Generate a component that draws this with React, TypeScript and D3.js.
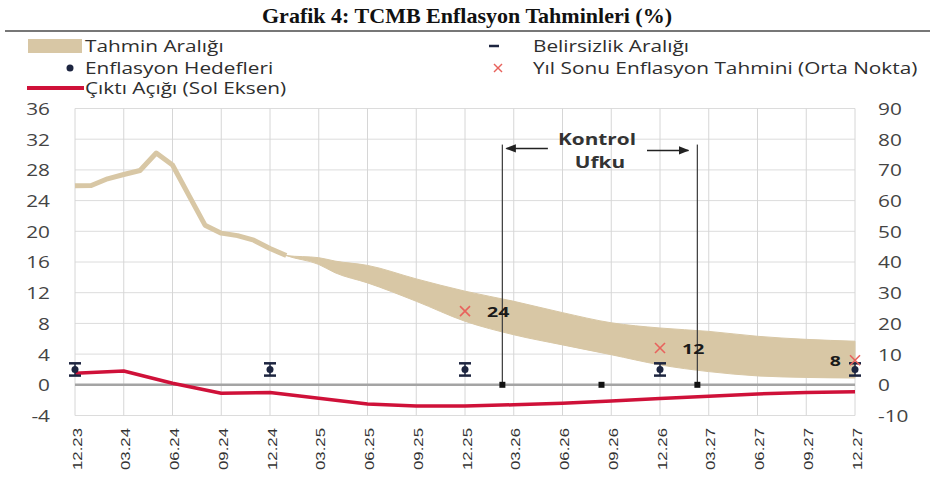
import React from 'react';
import * as d3 from 'd3';

// x ekseni: 12.23 - 12.27, üç ayda bir etiket
const quarterLabels = [
  '12.23', '03.24', '06.24', '09.24', '12.24', '03.25', '06.25', '09.25', '12.25',
  '03.26', '06.26', '09.26', '12.26', '03.27', '06.27', '09.27', '12.27',
];
const leftTicks = [-4, 0, 4, 8, 12, 16, 20, 24, 28, 32, 36];
const rightTicks = [-10, 0, 10, 20, 30, 40, 50, 60, 70, 80, 90];

// gerçekleşen enflasyon (aylık, 12.23'ten itibaren, sağ eksen)
const cpiHistory = [64.8, 64.9, 67.1, 68.5, 69.8, 75.5, 71.6, 61.8, 52.0, 49.4, 48.6, 47.1, 44.4, 42.1];

// tahmin aralığı (ay indeksi, sağ eksen)
const bandMonths = [12, 13, 15, 16, 18, 21, 24, 27, 30, 33, 36, 39, 42, 45, 48];
const bandUpper = [44.4, 42.1, 41.4, 40.3, 38.9, 34.5, 30.5, 27.2, 23.5, 20.2, 18.5, 17.4, 15.8, 14.8, 14.2];
const bandLower = [44.4, 42.1, 39.2, 36.5, 33.2, 27.2, 20.7, 16.3, 13.0, 9.8, 6.5, 4.3, 2.9, 2.4, 2.2];

// çıktı açığı (çeyreklik, sol eksen)
const outputGap = [1.5, 1.8, 0.2, -1.1, -1.0, -1.75, -2.5, -2.75, -2.75, -2.6, -2.4, -2.1, -1.8, -1.5, -1.2, -1.0, -0.9];

// enflasyon hedefleri ve belirsizlik aralığı (sağ eksen)
const targetMonths = [0, 12, 24, 36, 48];
const targetValues = [5, 5, 5, 5, 5];
const targetBand = [2, 2, 2, 2, 2];

// yıl sonu tahminleri (orta nokta)
const forecastMonths = [24, 36, 48];
const forecastValues = [24, 12, 8];

// kontrol ufku
const horizonMonths = [26.3, 38.3];
const horizonDots = [26.3, 32.4, 38.3];

const W = 935;
const H = 488;
const SX = 1.3; // kaynak görsel yatayda gerilmiş

const FONT = '"Open Sans", "DejaVu Sans", sans-serif';
const TAN = '#d8c7a5';
const RED = '#cf1139';
const NAVY = '#1d2540';
const CROSS = '#e8625c';

function SText({ x, y, anchor = 'start', size = 15, weight = 400, fill = '#2e2e2e', children }: any) {
  return (
    <text
      transform={`translate(${x},${y}) scale(${SX},1)`}
      textAnchor={anchor}
      dominantBaseline="central"
      fontFamily={FONT}
      fontSize={size}
      fontWeight={weight}
      fill={fill}
    >
      {children}
    </text>
  );
}

function Cross({ x, y, r = 5, w = 1.6 }: any) {
  return (
    <g stroke={CROSS} strokeWidth={w}>
      <line x1={x - r} y1={y - r} x2={x + r} y2={y + r} />
      <line x1={x - r} y1={y + r} x2={x + r} y2={y - r} />
    </g>
  );
}

export default function App() {
  const x = d3.scaleLinear().domain([0, 48]).range([75, 855]);
  const yL = d3.scaleLinear().domain([-4, 36]).range([415.5, 108.5]);
  const yR = d3.scaleLinear().domain([-10, 90]).range([415.5, 108.5]);

  const histLine = d3
    .line<number>()
    .x((d, i) => x(i))
    .y((d) => yR(d))(cpiHistory);

  const band = d3
    .area<number>()
    .curve(d3.curveMonotoneX)
    .x((d) => x(d))
    .y0((d, i) => yR(bandLower[i]))
    .y1((d, i) => yR(bandUpper[i]))(bandMonths);

  const gapLine = d3
    .line<number>()
    .x((d, i) => x(i * 3))
    .y((d) => yL(d))(outputGap);

  const [x0, x1] = x.range();
  const [yBot, yTop] = yL.range();
  const y0 = yL(0);
  const vTop = yL(31.3);
  const arrowY = yL(30.8);

  return (
    <svg width={W} height={H} style={{ position: 'absolute', left: 0, top: 0, background: '#fff' }}>
      <defs>
        <marker id="arr" viewBox="0 0 10 10" refX="9" refY="5" markerWidth="7" markerHeight="7" orient="auto-start-reverse">
          <path d="M0,1 L10,5 L0,9 z" fill="#222" />
        </marker>
      </defs>

      {/* başlık */}
      <text
        x={467}
        y={16}
        textAnchor="middle"
        dominantBaseline="central"
        fontFamily='"Liberation Serif", "Times New Roman", serif'
        fontWeight={700}
        fontSize={21}
        textLength={410}
        lengthAdjust="spacingAndGlyphs"
        fill="#111"
      >
        Grafik 4: TCMB Enflasyon Tahminleri (%)
      </text>
      <line x1={5} x2={930} y1={31} y2={31} stroke="#777" strokeWidth={2} />

      {/* lejant */}
      <rect x={28} y={39} width={54} height={14} fill={TAN} />
      <SText x={85} y={46} size={16}>Tahmin Aralığı</SText>
      <circle cx={70} cy={68} r={3.5} fill={NAVY} />
      <SText x={85} y={68} size={16}>Enflasyon Hedefleri</SText>
      <line x1={27} x2={84} y1={88} y2={88} stroke={RED} strokeWidth={4} />
      <SText x={85} y={88} size={16}>Çıktı Açığı (Sol Eksen)</SText>
      <line x1={489} x2={499} y1={46} y2={46} stroke={NAVY} strokeWidth={2.5} />
      <SText x={533} y={46} size={16}>Belirsizlik Aralığı</SText>
      <Cross x={498} y={68} r={4} w={1.5} />
      <SText x={533} y={68} size={16}>Yıl Sonu Enflasyon Tahmini (Orta Nokta)</SText>

      {/* ızgara */}
      {leftTicks.map((t) => (
        <line key={'h' + t} x1={x0} x2={x1} y1={yL(t)} y2={yL(t)} stroke="#dcdcdc" strokeWidth={1} />
      ))}
      {quarterLabels.map((q, i) => (
        <line key={'v' + q} x1={x(i * 3)} x2={x(i * 3)} y1={yTop} y2={yBot} stroke="#d6d6d6" strokeWidth={1} />
      ))}

      {/* eksen etiketleri */}
      {leftTicks.map((t) => (
        <SText key={'l' + t} x={50} y={yL(t)} anchor="end" size={16} fill="#444">
          {t}
        </SText>
      ))}
      {rightTicks.map((t) => (
        <SText key={'r' + t} x={878} y={yR(t)} size={16} fill="#444">
          {t}
        </SText>
      ))}
      {quarterLabels.map((q, i) => (
        <text
          key={'x' + q}
          transform={`translate(${x(i * 3) + 2},428) rotate(-90)`}
          textAnchor="end"
          dominantBaseline="central"
          fontFamily='"Liberation Sans", Arial, sans-serif'
          fontSize={13}
          textLength={42}
          lengthAdjust="spacingAndGlyphs"
          fill="#333"
        >
          {q}
        </text>
      ))}

      {/* tahmin aralığı ve gerçekleşme */}
      <path d={band ?? ''} fill={TAN} stroke={TAN} strokeWidth={1} />
      <path d={histLine ?? ''} fill="none" stroke={TAN} strokeWidth={5} strokeLinejoin="round" />

      {/* sıfır çizgisi */}
      <line x1={x0} x2={x1} y1={y0} y2={y0} stroke="#a4a4a4" strokeWidth={2.5} />

      {/* çıktı açığı */}
      <path d={gapLine ?? ''} fill="none" stroke={RED} strokeWidth={3.5} strokeLinejoin="round" />

      {/* kontrol ufku */}
      {horizonMonths.map((m) => (
        <line key={'k' + m} x1={x(m)} x2={x(m)} y1={vTop} y2={y0} stroke="#444" strokeWidth={1.3} />
      ))}
      {horizonDots.map((m) => (
        <rect key={'d' + m} x={x(m) - 3} y={y0 - 3} width={6} height={6} fill="#111" />
      ))}
      <line
        x1={x(horizonMonths[0] + 2.8)}
        x2={x(horizonMonths[0] + 0.25)}
        y1={arrowY}
        y2={arrowY}
        stroke="#222"
        strokeWidth={1.5}
        markerEnd="url(#arr)"
      />
      <line
        x1={x(horizonMonths[1] - 3.1)}
        x2={x(horizonMonths[1] - 0.55)}
        y1={arrowY + 2}
        y2={arrowY + 2}
        stroke="#222"
        strokeWidth={1.5}
        markerEnd="url(#arr)"
      />
      <SText x={597} y={yL(32.1)} anchor="middle" size={16} weight={700} fill="#333">
        Kontrol
      </SText>
      <SText x={600} y={yL(29.1)} anchor="middle" size={16} weight={700} fill="#333">
        Ufku
      </SText>

      {/* hedefler ve belirsizlik aralığı */}
      {targetMonths.map((m, i) => {
        const cx = x(m);
        const yc = yR(targetValues[i]);
        const ya = yR(targetValues[i] + targetBand[i]);
        const yb = yR(targetValues[i] - targetBand[i]);
        return (
          <g key={'t' + m} stroke={NAVY}>
            <line x1={cx} x2={cx} y1={ya} y2={yb} strokeWidth={1.5} />
            <line x1={cx - 6} x2={cx + 6} y1={ya} y2={ya} strokeWidth={2.5} />
            <line x1={cx - 6} x2={cx + 6} y1={yb} y2={yb} strokeWidth={2.5} />
            <circle cx={cx} cy={yc} r={3.5} fill={NAVY} stroke="none" />
          </g>
        );
      })}

      {/* yıl sonu tahminleri */}
      {forecastMonths.map((m, i) => {
        const cx = x(m);
        const cy = yR(forecastValues[i]);
        const last = i === forecastMonths.length - 1;
        return (
          <g key={'f' + m}>
            <Cross x={cx} y={cy} r={5} w={1.6} />
            <SText x={last ? cx - 14 : cx + 22} y={cy} anchor={last ? 'end' : 'start'} size={15} weight={700} fill="#1a1a1a">
              {forecastValues[i]}
            </SText>
          </g>
        );
      })}
    </svg>
  );
}
